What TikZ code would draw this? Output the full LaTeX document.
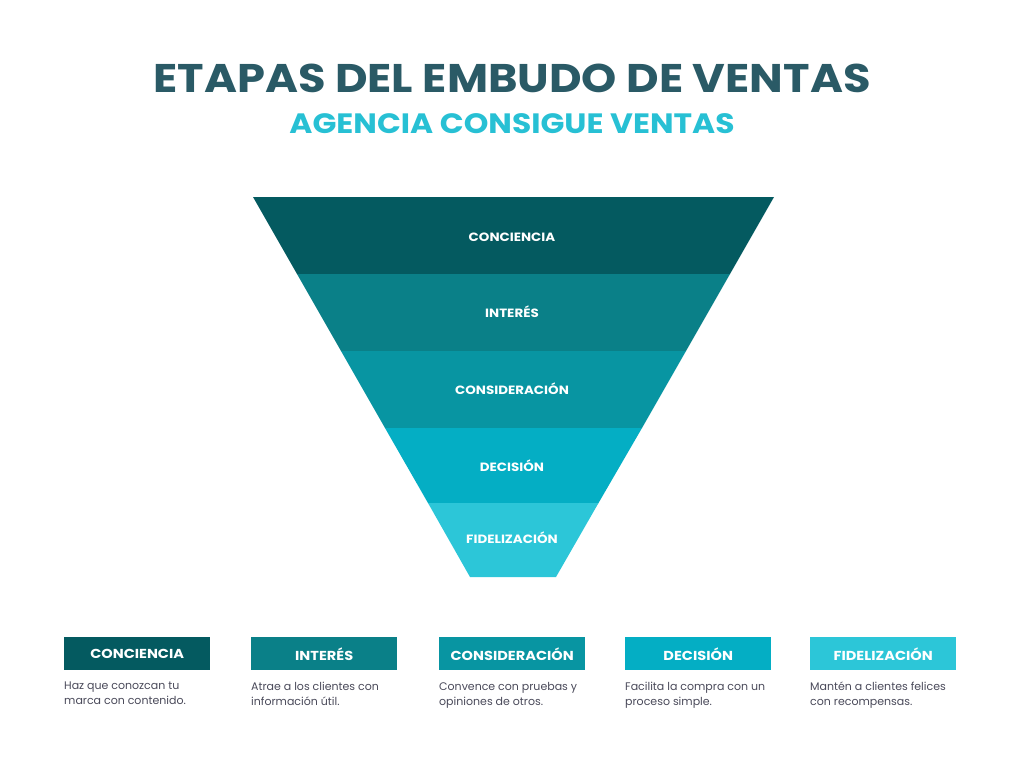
\documentclass[tikz,border=0pt]{standalone}
\usepackage{fontspec}
\setmainfont{Poppins}
\newfontfamily\bold{Poppins}[FakeStretch=1.12,UprightFont=* Bold]
\definecolor{c1}{HTML}{045A60}
\definecolor{c2}{HTML}{0A8088}
\definecolor{c3}{HTML}{0895A2}
\definecolor{c4}{HTML}{04AEC4}
\definecolor{c5}{HTML}{2CC6D8}
\definecolor{ttl}{HTML}{2A5A66}
\definecolor{sub}{HTML}{27C0D4}
\definecolor{body}{HTML}{4A4A5A}
\tikzset{
 lay/.style={white,font=\bold\fontsize{12}{14}\selectfont},
 tag/.style={minimum width=146pt,minimum height=33pt,inner sep=0pt,text=white,font=\bold\fontsize{13}{15}\selectfont},
 desc/.style={anchor=north west,align=left,inner sep=0pt,text=body,font=\fontsize{11}{15}\selectfont}
}
\begin{document}
\begin{tikzpicture}[x=1pt,y=-1pt]
\useasboundingbox[fill=white] (0,0) rectangle (1024,768);
\node[text=ttl,font=\bold\fontsize{40}{44}\selectfont] (t) at (512,78) {ETAPAS DEL EMBUDO DE VENTAS};
\node[text=sub,font=\bold\fontsize{28}{32}\selectfont] (s) at (512,124) {AGENCIA CONSIGUE VENTAS};
\fill[c1] (253,197) -- (774,197) -- (730,274) -- (297,274) -- cycle;
\fill[c2] (297,274) -- (730,274) -- (686,351) -- (341,351) -- cycle;
\fill[c3] (341,351) -- (686,351) -- (642,428) -- (385,428) -- cycle;
\fill[c4] (385,428) -- (642,428) -- (598.5,503) -- (428,503) -- cycle;
\fill[c5] (428,503) -- (598.5,503) -- (556,577) -- (470,577) -- cycle;
\node[lay] (l1) at (512,237) {CONCIENCIA};
\node[lay] (l2) at (512,312) {INTERÉS};
\node[lay] (l3) at (512,389) {CONSIDERACIÓN};
\node[lay] (l4) at (512,466) {DECISIÓN};
\node[lay] (l5) at (512,538) {FIDELIZACIÓN};
\foreach \x/\c/\n/\a/\b [count=\i] in {64/c1/CONCIENCIA/Haz que conozcan tu/marca con contenido.,
 251/c2/INTERÉS/Atrae a los clientes con/información útil.,
 439/c3/CONSIDERACIÓN/Convence con pruebas y/opiniones de otros.,
 625/c4/DECISIÓN/Facilita la compra con un/proceso simple.,
 810/c5/FIDELIZACIÓN/Mantén a clientes felices/con recompensas.}{
 \node[tag,fill=\c,anchor=north west] (b\i) at (\x,637) {\n};
 \node[desc] (d\i) at (\x,682) {\a\\\b};
}
\end{tikzpicture}
\end{document}
